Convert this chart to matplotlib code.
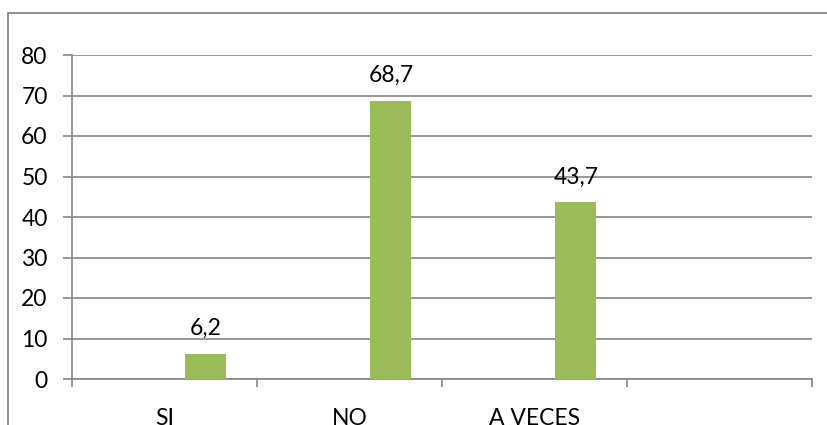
import matplotlib
matplotlib.use("Agg")
import matplotlib.pyplot as plt
from matplotlib.patches import Rectangle
import numpy as np

categorias = ["SI", "NO", "A VECES", ""]
valores = [6.2, 68.7, 43.7]
etiquetas = ["6,2", "68,7", "43,7"]
ticks_y = [0, 10, 20, 30, 40, 50, 60, 70, 80]

verde = "#9BBB59"
gris = "#868686"

plt.rcParams['font.family'] = ['Lato', 'DejaVu Sans']

fig = plt.figure(figsize=(8.27, 4.25), dpi=100)

# marco exterior (solo se ven el borde izquierdo y el superior)
fig.patches.append(Rectangle((8 / 827, -0.2), 1.2, (412 / 425) + 0.2, transform=fig.transFigure,
                             fill=False, edgecolor=gris, linewidth=1.3))

ax = fig.add_axes([72 / 827, 46 / 425, 740 / 827, 324 / 425])

x = np.arange(len(valores))
ancho = 0.222
desplazamiento = 0.224
barras = ax.bar(x + desplazamiento, valores, width=ancho, color=verde, zorder=3)

for b, texto in zip(barras, etiquetas):
    ax.text(b.get_x() + b.get_width() / 2, b.get_height() + 3.6, texto,
            ha='center', va='bottom', fontsize=16.5, color='black')

ax.set_xlim(-0.5, len(categorias) - 0.5)
ax.set_ylim(0, 80)
ax.set_yticks(ticks_y)
ax.yaxis.grid(True, color=gris, linewidth=1.2, zorder=0)

ax.set_xticks(np.arange(len(categorias)))
ax.set_xticklabels(categorias, fontsize=16.5)
ax.tick_params(axis='x', length=0, pad=21)
ax.set_xticks(np.arange(len(categorias) + 1) - 0.5, minor=True)
ax.tick_params(axis='x', which='minor', length=5.8, width=1.2, color=gris)
ax.tick_params(axis='y', length=6.5, width=1.2, color=gris, labelsize=16.5, pad=11)

for lado in ['top', 'right']:
    ax.spines[lado].set_visible(False)
for lado in ['left', 'bottom']:
    ax.spines[lado].set_color(gris)
    ax.spines[lado].set_linewidth(1.2)

fig.savefig("out.png", dpi=100)
